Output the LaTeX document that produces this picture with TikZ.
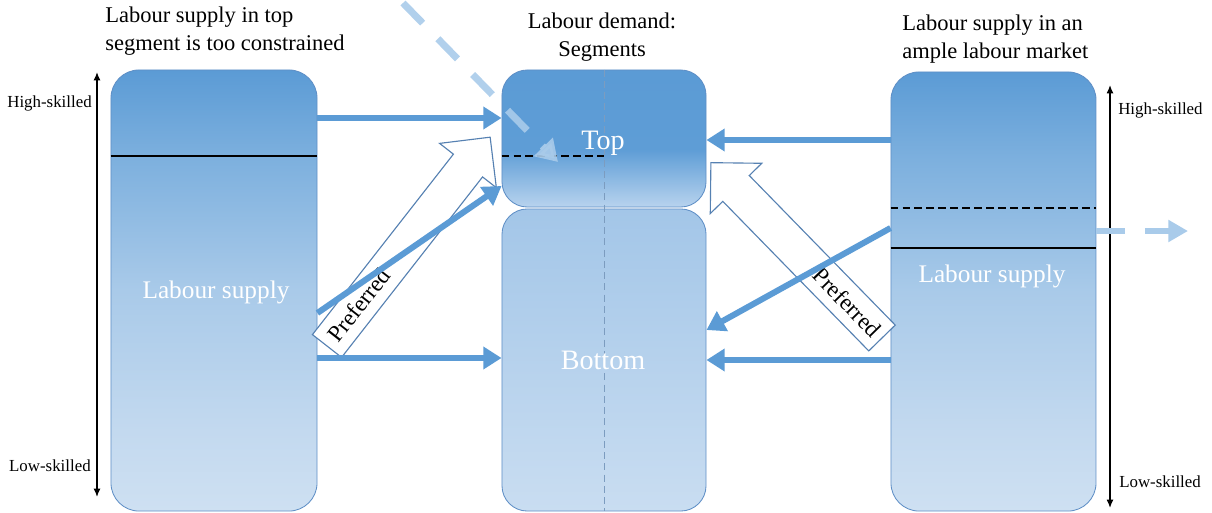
\documentclass[tikz,border=0pt]{standalone}
\usepackage{fontspec}
\setmainfont{Liberation Serif}
\usetikzlibrary{arrows.meta,calc}

\definecolor{accent}{HTML}{5B9BD5}
\definecolor{rim}{HTML}{5F8FC6}
\definecolor{pale}{HTML}{A9CBEA}
\definecolor{sA}{HTML}{7DB0DE}
\definecolor{sB}{HTML}{A9CAE9}
\definecolor{sC}{HTML}{C3D9EF}
\definecolor{sD}{HTML}{CEE0F2}
\definecolor{tA}{HTML}{5E9DD6}
\definecolor{tB}{HTML}{B8D3EE}
\definecolor{bA}{HTML}{A3C6E8}
\definecolor{bB}{HTML}{C9DDF1}
\definecolor{midline}{HTML}{7C9CBF}

% vertical shadings: 25bp = bottom edge, 75bp = top edge of the filled path
\pgfdeclareverticalshading{supplyshade}{100bp}{color(0bp)=(sD); color(25bp)=(sD); color(34bp)=(sC); color(50bp)=(sB); color(65bp)=(sA); color(75bp)=(accent); color(100bp)=(accent)}
\pgfdeclareverticalshading{topshade}{100bp}{color(0bp)=(tB); color(25bp)=(tB); color(46bp)=(tA); color(75bp)=(accent); color(100bp)=(accent)}
\pgfdeclareverticalshading{bottomshade}{100bp}{color(0bp)=(bB); color(25bp)=(bB); color(75bp)=(bA); color(100bp)=(bA)}

\begin{document}
\begin{tikzpicture}[x=0.025cm,y=-0.025cm,
  font=\rmfamily,
  box/.style={draw=rim, line width=0.6pt, inner sep=0pt, shade},
  supplybox/.style={box, shading=supplyshade, rounded corners=20pt, minimum width=5.15cm},
  segbox/.style={box, rounded corners=18pt, minimum width=5.1cm},
  boxtext/.style={text=white, font=\rmfamily\fontsize{18}{21}\selectfont},
  segtext/.style={text=white, font=\rmfamily\fontsize{20}{23}\selectfont},
  title/.style={font=\rmfamily\fontsize{16}{19.5}\selectfont, inner sep=0pt},
  skill/.style={font=\rmfamily\fontsize{12}{14}\selectfont, inner sep=0pt},
  flow/.style={draw=accent, line width=4.3pt, -{Triangle[length=13pt,width=15.5pt]}},
  ghost/.style={draw=pale, line width=5pt, dash pattern=on 20pt off 15.5pt, -{Triangle[length=15pt,width=18pt]}},
  axis/.style={line width=1pt, {Latex[length=6pt,width=5pt]}-{Latex[length=6pt,width=5pt]}},
  split/.style={line width=1pt},
  splitdash/.style={line width=1pt, dash pattern=on 5.5pt off 3pt},
  hollow/.style={draw=rim!90!black, line width=0.8pt, fill=white},
  pref/.style={font=\rmfamily\fontsize{16.5}{19}\selectfont, inner sep=0pt}
]
\useasboundingbox (0,0) rectangle (1212,513);

% supply and demand blocks
\node[supplybox, minimum height=11.025cm] (lbox) at (214,290.5) {};
\node[segbox, shading=topshade, minimum height=3.425cm] (tbox) at (604,138.5) {};
\node[segbox, shading=bottomshade, minimum height=7.55cm] (bbox) at (604,360) {};
\node[supplybox, minimum width=5.125cm, minimum height=10.975cm] (rbox) at (993.5,291.5) {};

% skill thresholds
\draw[split] (lbox.west |- 0,156) -- (lbox.east |- 0,156);
\draw[splitdash] (tbox.west |- 0,156) -- (tbox.center |- 0,156);
\draw[splitdash] (rbox.west |- 0,208) -- (rbox.east |- 0,208);
\draw[split] (rbox.west |- 0,248) -- (rbox.east |- 0,248);
\draw[draw=midline, line width=0.6pt, dash pattern=on 5pt off 3pt] (tbox.north) -- (bbox.south);

% block labels
\node[boxtext] (ltext) at (216,292) {Labour supply};
\node[boxtext] (rtext) at (992,276) {Labour supply};
\node[segtext] (ttext) at (603,143) {Top};
\node[segtext] (btext) at (603,360) {Bottom};

% titles
\node[title, anchor=west, align=left] (ltitle) at (105,31) {Labour supply in top\\segment is too constrained};
\node[title, align=center] (mtitle) at (602,37) {Labour demand:\\Segments};
\node[title, anchor=west, align=left] (rtitle) at (902,39) {Labour supply in an\\ample labour market};

% skill axes
\coordinate (laxtop) at (97,72);
\coordinate (laxbot) at (97,497);
\coordinate (raxtop) at (1110,85);
\coordinate (raxbot) at (1110,508);
\draw[axis] (laxbot) -- (laxtop);
\draw[axis] (raxbot) -- (raxtop);
\node[skill, anchor=east] (lhigh) at (92,103) {High-skilled};
\node[skill, anchor=east] (llow) at (91,466) {Low-skilled};
\node[skill, anchor=west] (rhigh) at (1118,110) {High-skilled};
\node[skill, anchor=west] (rlow) at (1119,482) {Low-skilled};

% preferred direction, left side
\begin{scope}[shift={(327,346)}, rotate=52]
  \draw[hollow] (0,-18.5) -- (229,-18.5) -- (229,-36) -- (265,0) -- (229,36) -- (229,18.5) -- (0,18.5) -- cycle;
  \node[pref, rotate=52] (lpref) at (52,0) {Preferred};
\end{scope}

% preferred direction, right side
\begin{scope}[shift={(882,338)}, rotate=134.3]
  \draw[hollow] (0,-18.5) -- (209,-18.5) -- (209,-36) -- (245,0) -- (209,36) -- (209,18.5) -- (0,18.5) -- cycle;
  \node[pref, rotate=-45.7] (rpref) at (50,0) {Preferred};
\end{scope}

% flows from supply to demand segments
\draw[flow] (lbox.east |- 0,118) -- (tbox.west |- 0,118);
\draw[flow] (lbox.east |- 0,313) -- (tbox.west |- 0,186);
\draw[flow] (lbox.east |- 0,358) -- (bbox.west |- 0,358);
\draw[flow] (rbox.west |- 0,140) -- (tbox.east |- 0,140);
\draw[flow] (rbox.west |- 0,228) -- (bbox.east |- 0,330);
\draw[flow] (rbox.west |- 0,360) -- (bbox.east |- 0,360);

% inflow and outflow of workers
\coordinate (inflow) at (403,3);
\coordinate (inend) at (558,162);
\coordinate (outend) at (1188,231);
\draw[ghost, opacity=0.9] (inflow) -- (inend);
\draw[ghost, line width=4.3pt, dash pattern=on 20pt off 14.5pt, -{Triangle[length=14pt,width=15pt]}] (rbox.east |- 0,231) -- (outend);
\end{tikzpicture}
\end{document}
